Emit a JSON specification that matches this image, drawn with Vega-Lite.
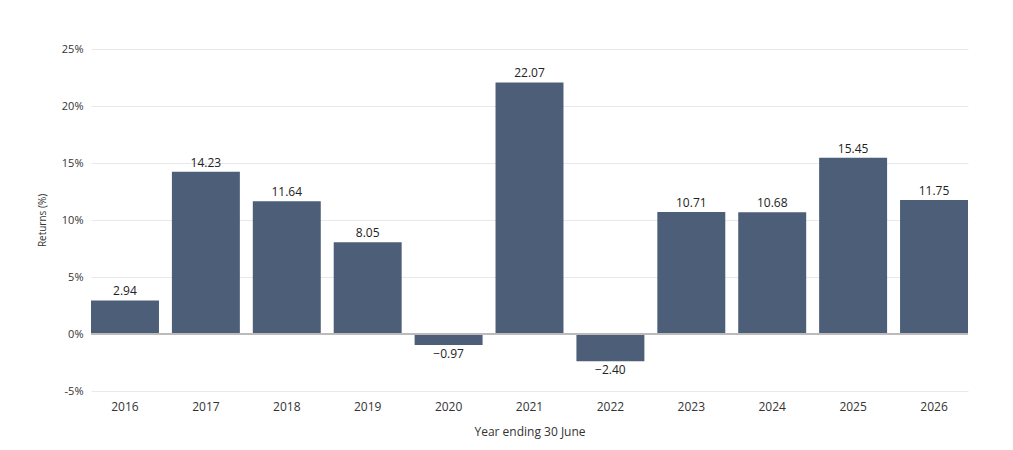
{
  "$schema": "https://vega.github.io/schema/vega-lite/v6.json",
  "autosize": {"type": "none"},
  "padding": {"left": 91, "top": 49, "right": 45, "bottom": 59},
  "width": 877,
  "height": 342,
  "data": {
    "values": [
      {"year": "2016", "ret": 2.94},
      {"year": "2017", "ret": 14.23},
      {"year": "2018", "ret": 11.64},
      {"year": "2019", "ret": 8.05},
      {"year": "2020", "ret": -0.97},
      {"year": "2021", "ret": 22.07},
      {"year": "2022", "ret": -2.40},
      {"year": "2023", "ret": 10.71},
      {"year": "2024", "ret": 10.68},
      {"year": "2025", "ret": 15.45},
      {"year": "2026", "ret": 11.75}
    ]
  },
  "encoding": {
    "x": {
      "field": "year", "type": "nominal", "title": "Year ending 30 June",
      "scale": {"paddingInner": 0.16, "paddingOuter": 0},
      "axis": {"labelAngle": 0, "domain": false, "ticks": false, "labelPadding": 10, "titlePadding": 14, "labelFontSize": 12, "titleFontSize": 12, "titleFontWeight": "normal"}
    },
    "y": {
      "field": "ret", "type": "quantitative", "title": "Returns (%)",
      "scale": {"domain": [-5, 25], "nice": false},
      "axis": {"values": [-5, 0, 5, 10, 15, 20, 25], "labelExpr": "datum.value + '%'", "domain": false, "ticks": false, "labelPadding": 8, "titlePadding": 14, "labelFontSize": 11, "titleFontSize": 10, "titleFontWeight": "normal", "gridColor": "#e8e8e8"}
    }
  },
  "layer": [
    {"mark": {"type": "bar", "color": "#4d5e78"}},
    {"mark": {"type": "rule", "color": "#bbbbbb"}, "encoding": {"y": {"datum": 0}, "x": null}},
    {
      "transform": [{"filter": "datum.ret >= 0"}],
      "mark": {"type": "text", "baseline": "bottom", "dy": -2, "fontSize": 12, "color": "#222"},
      "encoding": {"text": {"field": "ret", "format": ".2f"}, "text2": null}
    },
    {
      "transform": [{"filter": "datum.ret < 0"}],
      "mark": {"type": "text", "baseline": "top", "dy": 4, "fontSize": 12, "color": "#222"},
      "encoding": {"text": {"field": "ret", "format": ".2f"}}
    }
  ],
  "config": {
    "font": "Open Sans",
    "view": {"stroke": null},
    "axis": {"labelColor": "#333", "titleColor": "#333"},
    "text": {"font": "Open Sans"},
    "customFormatTypes": false
  }
}
